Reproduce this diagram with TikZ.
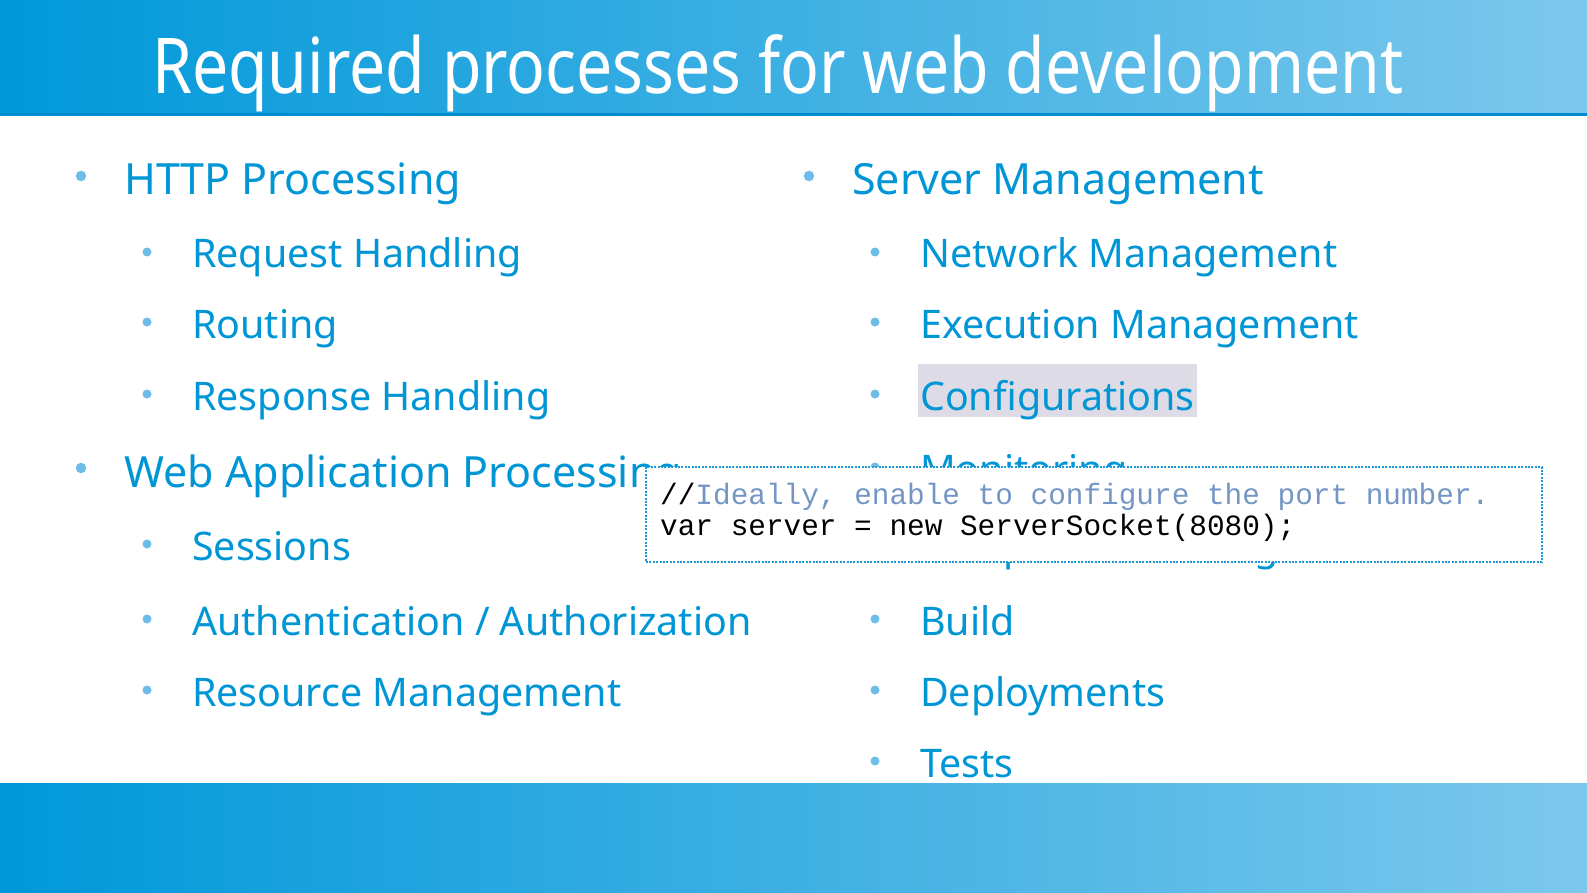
\documentclass[tikz,border=0pt]{standalone}
\usepackage{fontspec}
\setmainfont{Noto Sans}
\newfontfamily\titlefont[FakeStretch=0.835]{Noto Sans}
\newfontfamily\codefont{Liberation Mono}
\definecolor{bandleft}{RGB}{0,152,218}
\definecolor{bandright}{RGB}{124,200,236}
\definecolor{bandline}{RGB}{0,140,206}
\definecolor{itemblue}{RGB}{0,150,214}
\definecolor{dotblue}{RGB}{108,190,232}
\definecolor{hilite}{RGB}{221,219,229}
\definecolor{commentblue}{RGB}{116,150,196}
\definecolor{boxblue}{RGB}{30,152,216}
\tikzset{
    %Define standard node spacing
    every node/.style={inner sep=0pt},
}

\begin{document}
\begin{tikzpicture}[
    x=1pt, y=-1pt,
    band/.style = {left color=bandleft, right color=bandright},
    title/.style = {anchor=base west, text=white,
                    font=\titlefont\fontsize{77}{80}\selectfont},
    lvlone/.style = {anchor=base west, text=itemblue,
                     font=\fontsize{43}{50}\selectfont},
    lvltwo/.style = {anchor=base west, text=itemblue,
                     font=\fontsize{39.4}{46}\selectfont},
    dotone/.style = {circle, fill=dotblue, minimum size=10.5pt},
    dottwo/.style = {circle, fill=dotblue, minimum size=9pt},
    codebox/.style = {draw=boxblue, fill=white, line width=2pt,
                      dash pattern=on 2pt off 1.4pt,
                      minimum width=896pt, minimum height=95pt},
    codeline/.style = {anchor=base west, font=\codefont\fontsize{29.4}{31}\selectfont},
  ]
  \useasboundingbox (0,0) rectangle (1587,893);
  \fill[white] (0,0) rectangle (1587,893);
  % header and footer bands
  \shade[band] (0,0) rectangle (1587,113);
  \fill[bandline] (0,113) rectangle (1587,116);
  \shade[band] (0,783) rectangle (1587,893);
  \node[title] (title) at (152,94) {Required processes for web development};

  % left column
  \node[dotone] (httpdot) at (81,176) {};
  \node[lvlone] (http) at (124,195) {HTTP Processing};
  \node[dottwo] (requestdot) at (147,252) {};
  \node[lvltwo] (request) at (192,268) {Request Handling};
  \node[dottwo] (routingdot) at (147,322) {};
  \node[lvltwo] (routing) at (192,338) {Routing};
  \node[dottwo] (responsedot) at (147,394) {};
  \node[lvltwo] (response) at (192,410) {Response Handling};
  \node[dotone] (webappdot) at (81,468) {};
  \node[lvlone] (webapp) at (124,487) {Web Application Processing};
  \node[dottwo] (sessionsdot) at (147,544) {};
  \node[lvltwo] (sessions) at (192,560) {Sessions};
  \node[dottwo] (authdot) at (147,619) {};
  \node[lvltwo] (auth) at (192,635) {Authentication / Authorization};
  \node[dottwo] (resourcedot) at (147,690) {};
  \node[lvltwo] (resource) at (192,706) {Resource Management};

  % right column
  \node[dotone] (serverdot) at (809,176) {};
  \node[lvlone] (server) at (852,195) {Server Management};
  \node[dottwo] (networkdot) at (875,252) {};
  \node[lvltwo] (network) at (920,268) {Network Management};
  \node[dottwo] (executiondot) at (875,322) {};
  \node[lvltwo] (execution) at (920,338) {Execution Management};
  \node[dottwo] (configdot) at (875,394) {};
  \node[lvltwo, fill=hilite, inner xsep=2pt, text height=46pt, text depth=7pt]
       (config) at (918,410) {Configurations};
  \node[dottwo] (monitoringdot) at (875,467) {};
  \node[lvltwo] (monitoring) at (920,483) {Monitoring};
  \node[dottwo] (exceptiondot) at (875,544) {};
  \node[lvltwo] (exception) at (920,560) {Exception Handling};
  \node[dottwo] (builddot) at (875,619) {};
  \node[lvltwo] (build) at (920,635) {Build};
  \node[dottwo] (deploydot) at (875,690) {};
  \node[lvltwo] (deploy) at (920,706) {Deployments};
  \node[dottwo] (testsdot) at (875,761) {};
  \node[lvltwo] (tests) at (920,777) {Tests};

  % code snippet on top
  \node[codebox, anchor=north west] (code) at (645,466) {};
  \node[codeline] (comment) at (660,504) {//\textcolor{commentblue}{Ideally, enable to configure the port number.}};
  \node[codeline] (socket) at (660,535) {var server = new ServerSocket(8080);};
\end{tikzpicture}
\end{document}
